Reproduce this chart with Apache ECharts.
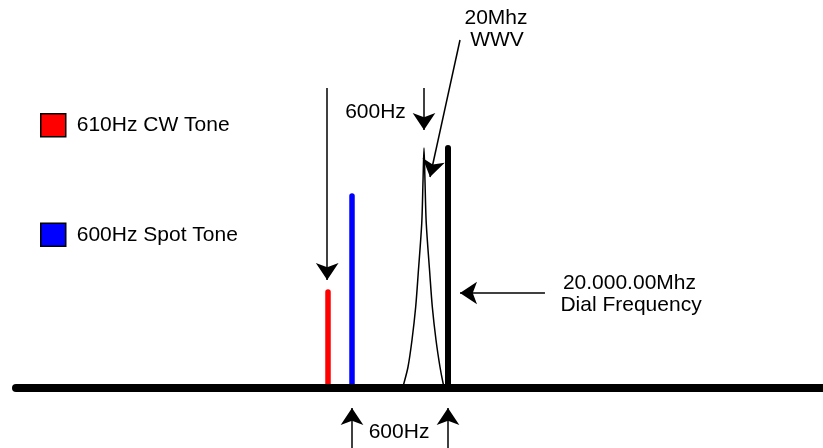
<!DOCTYPE html>
<html>
<head>
<meta charset="utf-8">
<script src="https://cdn.jsdelivr.net/npm/echarts@6/dist/echarts.min.js"></script>
<style>
html,body{margin:0;padding:0;background:#fff}
#chart{width:823px;height:448px}
</style>
</head>
<body>
<div id="chart"></div>
<script>
// frequency offset from the dial (arbitrary diagram units) and level
var toneNames = ['610Hz CW Tone', '600Hz Spot Tone'];
var toneColors = ['#ff0000', '#0000ff'];
var toneFreq = [-750, -600];
var toneLevel = [24, 48];

var dialFreq = 0;
var dialLevel = 60;

var baseStart = -2700;
var baseEnd = 2344;

// WWV carrier peak
var wwvCenter = -150;
var wwvOffset = [-131, -125, -100, -75, -52, -36, -14, -6, 0, 6, 14, 36, 52, 75, 100, 119, 125];
var wwvLevel = [0.5, 1.25, 5.25, 12, 20.25, 28.75, 41.25, 52, 60, 52, 41.25, 28.75, 20.25, 12, 5.25, 1.25, 0.5];

// annotation arrows (tail -> tip)
var arrowFrom = [[-755, 75], [-150, 75], [75, 87], [606, 23.75], [-600, -15], [0, -15]];
var arrowTo = [[-755, 27], [-150, 64.5], [-112.5, 52.75], [75, 23.75], [-600, -5], [0, -5]];

// annotation texts
var noteText = ['600Hz', '20Mhz', 'WWV', '20.000.00Mhz', 'Dial Frequency', '600Hz'];
var noteX = [-453, 300, 306, 1134, 1144, -306];
var noteY = [69, 92.4, 87, 26.1, 20.75, -11];

var font = "'Liberation Sans', Arial, sans-serif";

var chart = echarts.init(document.getElementById('chart'));

var series = [];

// baseline + arrows
var arrowLines = [];
for (var i = 0; i < arrowFrom.length; i++) {
	arrowLines.push([{coord: arrowFrom[i]}, {coord: arrowTo[i]}]);
}
series.push({
	type: 'line',
	name: 'base',
	data: [[baseStart, 0], [baseEnd, 0]],
	symbol: 'none',
	lineStyle: {color: '#000', width: 8, cap: 'round'},
	z: 3,
	markLine: {
		silent: true,
		symbol: ['none', 'arrow'],
		symbolSize: 17,
		label: {show: false},
		lineStyle: {color: '#000', width: 1.5, type: 'solid'},
		emphasis: {disabled: true},
		animation: false,
		data: arrowLines
	}
});

for (var t = 0; t < toneNames.length; t++) {
	series.push({
		type: 'line',
		name: toneNames[t],
		data: [[toneFreq[t], 0], [toneFreq[t], toneLevel[t]]],
		symbol: 'none',
		itemStyle: {color: toneColors[t]},
		lineStyle: {color: toneColors[t], width: 5.5, cap: 'round'},
		z: 2
	});
}

var wwvData = [];
for (var k = 0; k < wwvOffset.length; k++) {
	wwvData.push([wwvCenter + wwvOffset[k], wwvLevel[k]]);
}
series.push({
	type: 'line',
	name: 'WWV',
	data: wwvData,
	symbol: 'none',
	smooth: 0.3,
	lineStyle: {color: '#000', width: 1.5},
	z: 2
});

series.push({
	type: 'line',
	name: 'dial',
	data: [[dialFreq, 0], [dialFreq, dialLevel]],
	symbol: 'none',
	lineStyle: {color: '#000', width: 6, cap: 'round'},
	z: 2
});

var notes = [];
for (var n = 0; n < noteText.length; n++) {
	notes.push({name: noteText[n], value: [noteX[n], noteY[n]]});
}
series.push({
	type: 'scatter',
	name: 'notes',
	data: notes,
	symbolSize: 0,
	itemStyle: {color: '#000', opacity: 1},
	silent: true,
	label: {
		show: true,
		position: 'inside',
		formatter: '{b}',
		color: '#000',
		opacity: 1,
		fontFamily: font,
		fontSize: 21,
		align: 'center',
		verticalAlign: 'middle'
	}
});

chart.setOption({
	animation: false,
	backgroundColor: '#fff',
	grid: {left: 0, right: 0, top: 0, bottom: 0},
	xAxis: {type: 'value', min: -2800, max: 2343.75, show: false},
	yAxis: {type: 'value', min: -15, max: 97, show: false},
	legend: {
		orient: 'vertical',
		left: 40,
		top: 113,
		padding: 0,
		itemWidth: 25,
		itemHeight: 23,
		itemGap: 85,
		selectedMode: false,
		data: toneNames.map(function (name, i) {
			return {
				name: name,
				icon: 'rect',
				itemStyle: {color: toneColors[i], borderColor: '#000', borderWidth: 1.5}
			};
		}),
		textStyle: {color: '#000', fontFamily: font, fontSize: 21, padding: [0, 0, 0, 6]}
	},
	series: series
});
</script>
</body>
</html>
